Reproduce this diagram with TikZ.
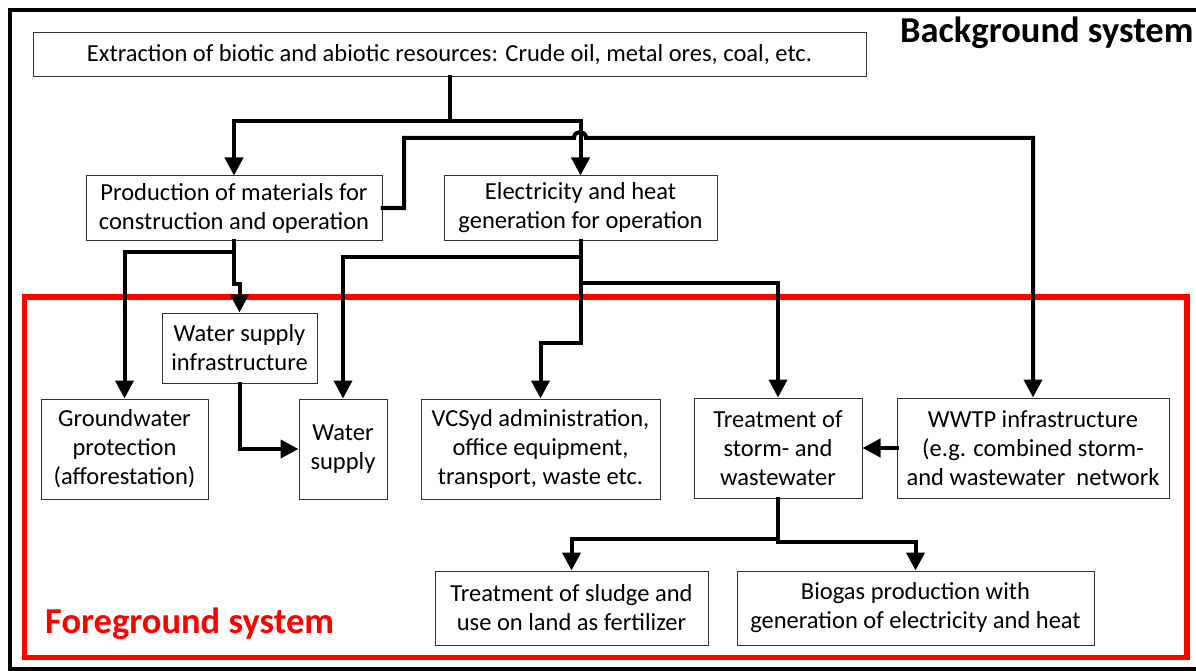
\documentclass[tikz,border=0pt]{standalone}
\usepackage{fontspec}
\setmainfont{Carlito}
\usetikzlibrary{arrows.meta}
\begin{document}
\begin{tikzpicture}[x=1pt,y=-1pt,
  box/.style={draw=black!80, line width=1pt, fill=white, align=center, inner sep=0pt,
    font=\fontsize{24.5}{29}\selectfont},
  conn/.style={line width=4pt, line cap=rect, -{Triangle[length=18pt,width=18pt]}},
  plain/.style={line width=4pt, line cap=rect},
  biglabel/.style={font=\fontsize{36.5}{40}\selectfont\bfseries, inner sep=0pt, anchor=base west}]
\useasboundingbox (0,0) rectangle (1196,671);
% frames
\draw[line width=4pt] (9.5,10) rectangle (1260,668.5);
\draw[red, line width=5.5pt] (24.5,297) rectangle (1187,657.5);
\node[biglabel] (bg) at (900,43) {Background system};
\node[biglabel, text=red] (fg) at (45,633) {Foreground system};
% boxes
\node[box, minimum width=833pt, minimum height=44pt] (ext) at (449.5,55) {Extraction of biotic and abiotic resources: Crude oil, metal ores, coal, etc.};
\node[box, minimum width=296pt, minimum height=64pt] (prod) at (234,208) {Production of materials for\\construction and operation};
\node[box, minimum width=273pt, minimum height=64pt] (elec) at (580.5,208) {Electricity and heat\\generation for operation};
\node[box, minimum width=155pt, minimum height=70pt] (wsi) at (239.5,348) {Water supply\\infrastructure};
\node[box, minimum width=167pt, minimum height=100pt] (gw) at (124.5,449) {Groundwater\\protection\\(afforestation)};
\node[box, minimum width=88pt, minimum height=100pt] (ws) at (343,449) {Water\\supply};
\node[box, minimum width=239pt, minimum height=100pt] (vcs) at (540.5,449) {VCSyd administration,\\office equipment,\\transport, waste etc.};
\node[box, minimum width=168pt, minimum height=100pt] (trt) at (778,448) {Treatment of\\storm- and\\wastewater};
\node[box, minimum width=272pt, minimum height=100pt] (wwtp) at (1033,448) {WWTP infrastructure\\(e.g. combined storm-\\and wastewater\ \ network};
\node[box, minimum width=273pt, minimum height=74pt] (sludge) at (571.5,608) {Treatment of sludge and\\use on land as fertilizer};
\node[box, minimum width=357pt, minimum height=74pt] (biogas) at (915.5,608) {Biogas production with\\generation of electricity and heat};
% junction coordinates
\coordinate (j1) at (449.5,121);
\coordinate (j2) at (234,252);
\coordinate (e1) at (580.5,257);
\coordinate (e2) at (580.5,283);
\coordinate (t1) at (778,539);
\coordinate (t2) at (778,542);
% connectors
\draw[plain] (ext.south) -- (j1);
\draw[conn] (j1) -| (prod.north);
\draw[conn] (j1) -| (elec.north);
\draw[conn] (prod.east) -- (404,208) -- (404,138) -- (574,138) .. controls (574,130) and (586,130) .. (586,138) -| (wwtp.north);
\draw[conn] (prod.south) -- (234,284) -| (wsi.north);
\draw[conn] (j2) -| (gw.north);
\draw[conn] (wsi.south) |- (ws.west);
\draw[conn] (elec.south) -- (580.5,343) -| (vcs.north);
\draw[conn] (e1) -| (ws.north);
\draw[conn] (e2) -| (trt.north);
\draw[conn] (wwtp.west) -- (trt.east);
\draw[plain] (trt.south) -- (t2);
\draw[conn] (t1) -| (sludge.north);
\draw[conn] (t2) -| (biogas.north);
\end{tikzpicture}
\end{document}
